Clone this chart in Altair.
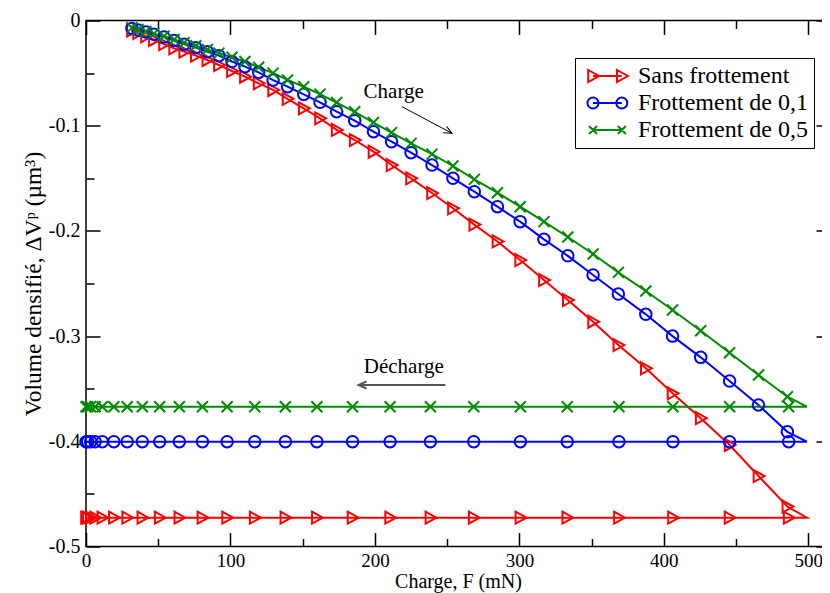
import altair as alt
import pandas as pd

# ---------------- data ----------------
SERIES = ["Sans frottement", "Frottement de 0,1", "Frottement de 0,5"]
COLORS = ["#ff0000", "#0000ff", "#008b00"]

CHARGE_F = [31.8, 36, 41.5, 47, 54, 61, 68, 76, 84, 92, 101, 110, 119.5, 129.5,
            139.5, 150.7, 162, 173.5, 186, 199, 211.5, 225, 239.5, 254, 268.8,
            284.8, 300.5, 317, 333.5, 351, 368.5, 387.5, 406, 425.5, 445.5,
            465.5, 485.5]
RED_CHARGE = [-0.0095, -0.012, -0.015, -0.0185, -0.0225, -0.0265, -0.0296, -0.0334,
              -0.0375, -0.0423, -0.048, -0.0534, -0.0597, -0.066, -0.0745, -0.0835,
              -0.093, -0.104, -0.1136, -0.1247, -0.1374, -0.150, -0.164, -0.1785,
              -0.194, -0.210, -0.2277, -0.2467, -0.2657, -0.2863, -0.3085, -0.3306,
              -0.3544, -0.378, -0.4035, -0.433, -0.462]
BLUE_CHARGE = [-0.0075, -0.009, -0.011, -0.013, -0.0157, -0.019, -0.0225, -0.0258,
               -0.0296, -0.0334, -0.039, -0.0439, -0.0493, -0.0566, -0.0629, -0.0702,
               -0.0778, -0.0867, -0.0952, -0.1057, -0.1152, -0.1256, -0.1374, -0.150,
               -0.1627, -0.177, -0.1912, -0.208, -0.2237, -0.2419, -0.260, -0.2793,
               -0.300, -0.3202, -0.3427, -0.3655, -0.391]
GREEN_CHARGE = [-0.0068, -0.0085, -0.0105, -0.0125, -0.015, -0.018, -0.021, -0.024,
                -0.0275, -0.031, -0.035, -0.039, -0.0445, -0.050, -0.0565, -0.063,
                -0.070, -0.078, -0.0868, -0.097, -0.1066, -0.1168, -0.127, -0.1383,
                -0.151, -0.1637, -0.177, -0.1912, -0.2058, -0.222, -0.2394, -0.2571,
                -0.2752, -0.2949, -0.3158, -0.337, -0.3576]
PEAK_F = 499
DECHARGE_F = [486.4, 445.5, 406.3, 368.9, 333.1, 300.7, 268.4, 238.4, 210.5, 184.5,
              159.8, 138, 116.8, 97.7, 80.6, 64.6, 51, 39, 28.5, 19.3, 11.3, 6.3,
              3.2, 1.2, 0]
DECHARGE_LEVEL = [-0.4726, -0.4004, -0.3671]

X_MAJOR = [0, 100, 200, 300, 400, 500]
X_MINOR = [50, 150, 250, 350, 450]
Y_MAJOR = [0, -0.1, -0.2, -0.3, -0.4, -0.5]
Y_MINOR = [-0.05, -0.15, -0.25, -0.35, -0.45]

ANNOT_TEXT = ["Charge", "Décharge"]
ANNOT_F = [213, 220]
ANNOT_V = [-0.068, -0.329]
ARROW_F1 = [218.7, 248.7]
ARROW_V1 = [-0.0819, -0.3465]
ARROW_F2 = [253.3, 188.7]
ARROW_V2 = [-0.1072, -0.3465]
ARROW_ANGLE = [28, 180]
ARROW_COLOR = ["#000000", "#555555"]
ARROW_WIDTH = [1, 2]

# ---------------- tables ----------------
rows = []
for s, cv, level in zip(SERIES, [RED_CHARGE, BLUE_CHARGE, GREEN_CHARGE], DECHARGE_LEVEL):
    i = 0
    for f, v in zip(CHARGE_F, cv):
        rows.append(dict(series=s, F=f, V=v, i=i, marker=True)); i += 1
    rows.append(dict(series=s, F=PEAK_F, V=level, i=i, marker=False)); i += 1
    for f in DECHARGE_F:
        rows.append(dict(series=s, F=f, V=level, i=i, marker=True)); i += 1
curves = pd.DataFrame(rows)

annot = pd.DataFrame(dict(text=ANNOT_TEXT, F=ANNOT_F, V=ANNOT_V))
arrows = pd.DataFrame(dict(F=ARROW_F1, V=ARROW_V1, F2=ARROW_F2, V2=ARROW_V2,
                           angle=ARROW_ANGLE, col=ARROW_COLOR, w=ARROW_WIDTH))

# ---------------- styles ----------------
FONT = "Liberation Serif"
TRI = "M-0.8,-1L1,0L-0.8,1Z"
XMARK = "M-1,-1L1,1M-1,1L1,-1"
MARKER_SHAPES = [TRI, "circle", XMARK]
MARKER_SIZES = [144, 121, 64]

LEG_RED = ("M0,0L3.6,0 M-0.6,-0.75L0.75,0L-0.6,0.75Z M3,-0.75L4.35,0L3,0.75Z")
LEG_BLUE = ("M0,0L3.6,0 M-0.69,0A0.69,0.69 0 1,0 0.69,0A0.69,0.69 0 1,0 -0.69,0 "
            "M2.91,0A0.69,0.69 0 1,0 4.29,0A0.69,0.69 0 1,0 2.91,0")
LEG_GREEN = ("M0,0L3.6,0 M-0.5,-0.5L0.5,0.5M-0.5,0.5L0.5,-0.5 "
             "M3.1,-0.5L4.1,0.5M3.1,0.5L4.1,-0.5")
LEGEND_SHAPES = [LEG_RED, LEG_BLUE, LEG_GREEN]

X_MAX = 515


def xs():
    return alt.Scale(domain=[0, X_MAX], nice=False, zero=False)


def ys():
    return alt.Scale(domain=[-0.5, 0], nice=False, zero=False)


def cs():
    return alt.Scale(domain=SERIES, range=COLORS)


ax_bottom_major = alt.Axis(orient="bottom", values=X_MAJOR, offset=-14, tickSize=14,
                           labelPadding=5, labelFontSize=19, format="d",
                           title="Charge, F (mN)", titlePadding=1,
                           labelFlush=False, labelOverlap=False)
ax_bottom_minor = alt.Axis(orient="bottom", values=X_MINOR, offset=-8, tickSize=8,
                           labels=False, title=None)
ax_top_major = alt.Axis(orient="top", values=X_MAJOR, offset=-14, tickSize=14,
                        labels=False, title=None)
ax_top_minor = alt.Axis(orient="top", values=X_MINOR, offset=-8, tickSize=8,
                        labels=False, title=None)
ax_left_major = alt.Axis(orient="left", values=Y_MAJOR, offset=-14, tickSize=14,
                         labelPadding=6, labelFlush=False, labelOverlap=False,
                         labelExpr="datum.value == 0 ? '0' : '-' + format(-datum.value, '.1f')",
                         title="Volume densifié, ΔVᵖ (µm³)", titlePadding=3,
                         titleFontSize=23.5)
ax_left_minor = alt.Axis(orient="left", values=Y_MINOR, offset=-8, tickSize=8,
                         labels=False, title=None)
ax_right_major = alt.Axis(orient="right", values=Y_MAJOR, offset=-14, tickSize=14,
                          labels=False, title=None)
ax_right_minor = alt.Axis(orient="right", values=Y_MINOR, offset=-8, tickSize=8,
                          labels=False, title=None)

base = alt.Chart(curves)

lines = base.mark_line(strokeWidth=2).encode(
    x=alt.X("F:Q", scale=xs(), axis=ax_bottom_major),
    y=alt.Y("V:Q", scale=ys(), axis=ax_left_major),
    color=alt.Color("series:N", scale=cs(), legend=None),
    detail="series:N",
    order=alt.Order("i:Q"),
)

points = base.transform_filter("datum.marker").mark_point(
    filled=False, strokeWidth=2, opacity=1
).encode(
    x=alt.X("F:Q", scale=xs(), axis=ax_bottom_minor),
    y=alt.Y("V:Q", scale=ys(), axis=ax_left_minor),
    color=alt.Color("series:N", scale=cs(), legend=None),
    shape=alt.Shape("series:N", scale=alt.Scale(domain=SERIES, range=MARKER_SHAPES), legend=None),
    size=alt.Size("series:N", scale=alt.Scale(domain=SERIES, range=MARKER_SIZES), legend=None),
)

leg = alt.Legend(orient="none", legendX=489, legendY=37.5, title=None,
                 labelFont=FONT, labelFontSize=24, labelColor="black", labelLimit=400,
                 labelOffset=33, symbolSize=256, symbolStrokeWidth=2,
                 padding=6, rowPadding=3, strokeColor="black", fillColor="white")

legend_layer = base.transform_filter("false").mark_point(
    filled=False, strokeWidth=2, opacity=1, size=256
).encode(
    x=alt.X("F:Q", scale=xs(), axis=ax_top_major),
    y=alt.Y("V:Q", scale=ys(), axis=ax_right_major),
    color=alt.Color("series:N", scale=cs(), legend=leg),
    shape=alt.Shape("series:N", scale=alt.Scale(domain=SERIES, range=LEGEND_SHAPES), legend=leg),
)

arrow_lines = alt.Chart(arrows).mark_rule().encode(
    x=alt.X("F:Q", scale=xs(), axis=ax_top_minor),
    y=alt.Y("V:Q", scale=ys(), axis=ax_right_minor),
    x2="F2:Q",
    y2="V2:Q",
    color=alt.Color("col:N", scale=None),
    strokeWidth=alt.StrokeWidth("w:Q", scale=None),
)

arrow_heads = alt.Chart(arrows).mark_point(
    shape="M-1,-0.45L0,0L-1,0.45", size=256, filled=False, opacity=1
).encode(
    x=alt.X("F2:Q", scale=xs(), axis=None),
    y=alt.Y("V2:Q", scale=ys(), axis=None),
    angle=alt.Angle("angle:Q", scale=None),
    color=alt.Color("col:N", scale=None),
    strokeWidth=alt.StrokeWidth("w:Q", scale=None),
)

labels = alt.Chart(annot).mark_text(
    font=FONT, fontSize=21, align="center", baseline="middle", color="black"
).encode(
    x=alt.X("F:Q", scale=xs(), axis=None),
    y=alt.Y("V:Q", scale=ys(), axis=None),
    text="text:N",
)

chart = alt.layer(
    lines, points, legend_layer, arrow_lines, arrow_heads, labels
).resolve_axis(
    x="independent", y="independent"
).resolve_scale(
    color="independent", shape="independent", size="independent"
).properties(
    width=744, height=526,
    padding={"left": 78, "top": 12.5, "right": -8, "bottom": 46.5},
    autosize=alt.AutoSizeParams(type="none"),
).configure_view(
    stroke="black", strokeWidth=1.5
).configure_axis(
    grid=False, domain=False, labelFont=FONT, labelFontSize=20, labelColor="black",
    tickColor="black", tickWidth=1.5, titleFont=FONT, titleFontSize=20,
    titleFontWeight="normal", titleColor="black",
)

chart.save("out.html", embed_options={"renderer": "svg", "actions": False})
